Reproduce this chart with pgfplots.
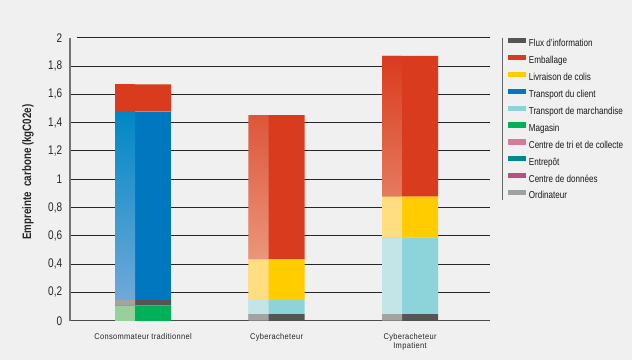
\documentclass[border=0pt]{standalone}
\usepackage{pgfplots}
\pgfplotsset{compat=1.18}
\usepackage{fontspec}
\setmainfont{Liberation Sans}[FakeStretch=0.8]
\newfontfamily\xlabfont{Liberation Sans}[FakeStretch=0.9, LetterSpace=4]
\newcommand\tickfont{\fontsize{12.5}{14}\selectfont}
\newcommand\legfont{\fontsize{10.1}{12}\selectfont}
\newcommand\ylabfont{\bfseries\fontsize{12.2}{14}\selectfont}
\definecolor{bgc}{HTML}{EFF0EF}
\definecolor{fluxc}{HTML}{555555}
\definecolor{fluxl}{HTML}{A3A3A3}
\definecolor{embc}{HTML}{D93B1F}
\definecolor{embl}{HTML}{EA967A}
\definecolor{livc}{HTML}{FFCC00}
\definecolor{livl}{HTML}{FFDD80}
\definecolor{tcc}{HTML}{0077BF}
\definecolor{tct}{HTML}{0087C6}
\definecolor{tcm}{HTML}{3F95CE}
\definecolor{tcl}{HTML}{70A9D8}
\definecolor{tmc}{HTML}{8DD3DA}
\definecolor{tml}{HTML}{C3E5E8}
\definecolor{magc}{HTML}{00B159}
\definecolor{magl}{HTML}{98D09D}
\definecolor{tric}{HTML}{D67A9A}
\definecolor{entc}{HTML}{00898A}
\definecolor{donc}{HTML}{B5517F}
\definecolor{ordc}{HTML}{A0A0A0}
\pgfplotsset{leg/.style={legend image code/.code={\fill[##1, draw=none] (0pt,1.2pt) rectangle (18pt,6.4pt); \path (20.5pt,0pt);}}}
\begin{document}
\begin{tikzpicture}
\fill[bgc] (0,0) rectangle (632pt,360pt);
\begin{axis}[
  at={(70pt,39.3pt)}, anchor=south west, scale only axis,
  width=420pt, height=283pt,
  xmin=-0.547, xmax=2.599, ymin=0, ymax=2,
  clip=false,
  ybar stacked, bar width=56pt,
  axis lines*=left,
  y axis line style={draw=black!55, line width=1.2pt},
  x axis line style={draw=black!70, line width=1pt},
  ymajorgrids, major grid style={draw=black!85, line width=0.9pt, shorten <=7pt},
  major tick length=0pt,
  ytick={0,0.2,0.4,0.6,0.8,1,1.2,1.4,1.6,1.8,2},
  /pgf/number format/use comma, /pgf/number format/fixed,
  /pgf/number format/assume math mode=true,
  yticklabel style={font=\tickfont, text=black!85, inner xsep=0pt, xshift=-7.7pt},
  xtick={0,1,2},
  xticklabels={Consommateur traditionnel, Cyberacheteur, {Cyberacheteur\\Impatient}},
  xticklabel style={font=\xlabfont\fontsize{8.3}{9}\selectfont, text=black!85, align=center, inner ysep=0pt, yshift=-13pt},
  ylabel={Empreinte\ \ carbone (kgC02e)},
  ylabel style={at={(axis description cs:-0.1,0.525)}, anchor=center, font=\ylabfont, text=black!85},
  legend cell align=left,
  legend style={at={(axis description cs:1.0429,1.0)}, anchor=north west, draw=none, fill=none,
    inner sep=0pt, row sep=6pt, font=\legfont, text=black!90,
    nodes={inner sep=0pt, text height=7pt, text depth=2pt}},
]
\addplot[forget plot, draw=none, fill=magc] coordinates {(0,0.106) (1,0) (2,0)};
\addplot[forget plot, draw=none, fill=fluxc] coordinates {(0,0.040) (1,0.047) (2,0.047)};
\addplot[forget plot, draw=none, fill=tmc] coordinates {(0,0) (1,0.099) (2,0.540)};
\addplot[forget plot, draw=none, fill=tcc] coordinates {(0,1.331) (1,0) (2,0)};
\addplot[forget plot, draw=none, fill=livc] coordinates {(0,0) (1,0.288) (2,0.289)};
\addplot[forget plot, draw=none, fill=embc] coordinates {(0,0.194) (1,1.018) (2,0.995)};
\addlegendimage{leg, fill=fluxc}\addlegendentry{Flux d'information}
\addlegendimage{leg, fill=embc}\addlegendentry{Emballage}
\addlegendimage{leg, fill=livc}\addlegendentry{Livraison de colis}
\addlegendimage{leg, fill=tcc}\addlegendentry{Transport du client}
\addlegendimage{leg, fill=tmc}\addlegendentry{Transport de marchandise}
\addlegendimage{leg, fill=magc}\addlegendentry{Magasin}
\addlegendimage{leg, fill=tric}\addlegendentry{Centre de tri et de collecte}
\addlegendimage{leg, fill=entc}\addlegendentry{Entrepôt}
\addlegendimage{leg, fill=donc}\addlegendentry{Centre de données}
\addlegendimage{leg, fill=ordc}\addlegendentry{Ordinateur}
\draw[black!60, line width=1.3pt] (axis description cs:1.029,1.0) -- (axis description cs:1.029,0.4265);
\end{axis}
\begin{axis}[
  at={(70pt,39.3pt)}, anchor=south west, scale only axis,
  width=420pt, height=283pt,
  xmin=-0.547, xmax=2.599, ymin=0, ymax=2,
  hide axis,
  ybar stacked, bar width=20pt, bar shift=-18pt,
]
\addplot[draw=none, fill=magl] coordinates {(0,0.106) (1,0) (2,0)};
\addplot[draw=none, fill=fluxl] coordinates {(0,0.040) (1,0.047) (2,0.047)};
\addplot[draw=none, fill=tml] coordinates {(0,0) (1,0.099) (2,0.540)};
\addplot[draw=none, top color=tct, middle color=tcm, bottom color=tcl] coordinates {(0,1.331) (1,0) (2,0)};
\addplot[draw=none, fill=livl] coordinates {(0,0) (1,0.288) (2,0.289)};
\addplot[draw=none, fill=embc] coordinates {(0,0.194) (1,0) (2,0)};
\addplot[draw=none, top color=embc, bottom color=embl] coordinates {(0,0) (1,1.018) (2,0.995)};
\end{axis}
\pgfresetboundingbox
\useasboundingbox (0,0) rectangle (632pt,360pt);
\end{tikzpicture}
\end{document}
